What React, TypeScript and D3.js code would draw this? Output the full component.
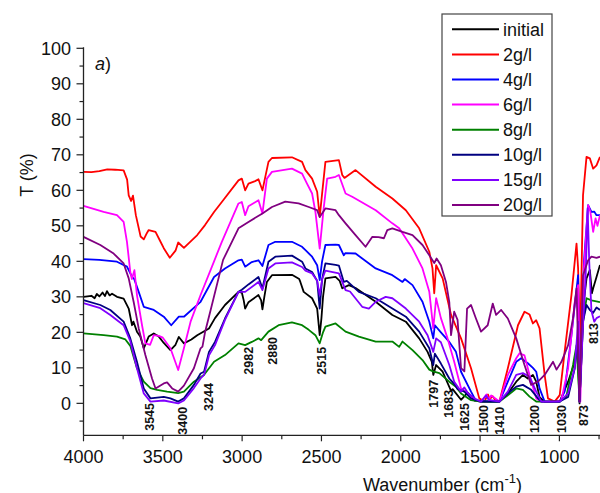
import React from "react";
import * as d3 from "d3";

type P = [number, number];

const seriesNames = ["initial", "2g/l", "4g/l", "6g/l", "8g/l", "10g/l", "15g/l", "20g/l"];
const seriesColors = ["#000000", "#ff0000", "#0000ff", "#ff00ff", "#008000", "#000080", "#8000ff", "#800080"];

const initial: P[] = [[4000,30],[3950,30.3],[3930,29.6],[3916,30.8],[3900,30.1],[3880,31.2],[3865,30.2],[3852,31.6],[3835,30.4],[3820,30.9],[3789,30],[3747,29.5],[3715,26.7],[3694,22],[3685,23],[3663,20.2],[3642,18.8],[3620,15.5],[3589,18.8],[3557,19.7],[3525,18.8],[3494,17],[3452,15],[3420,16.5],[3399,18.7],[3367,16.9],[3320,18],[3283,19.2],[3209,21.1],[3171,24],[3108,27.7],[3023,31.4],[3002,31.2],[2990,29],[2981,26.7],[2960,28.5],[2897,30.5],[2880,29],[2872,26.5],[2860,30],[2844,34.2],[2812,36.1],[2686,36.2],[2640,35],[2633,34.2],[2612,31.4],[2559,29.6],[2527,26.7],[2511,19.2],[2500,24],[2490,30],[2475,35.2],[2411,35.6],[2385,34.5],[2369,32.4],[2327,33.3],[2285,32.5],[2158,28.6],[2053,24.9],[1968,23],[1884,18.3],[1831,14.5],[1804,11.7],[1795,8],[1777,10.8],[1736,8.9],[1683,3.5],[1673,4],[1620,1],[1578,3],[1536,0.8],[1494,0.5],[1378,0.5],[1325,2.8],[1272,6.1],[1230,8],[1199,7],[1167,8],[1146,6.1],[1125,1.7],[1093,0.5],[998,0.5],[945,6.1],[903,11.7],[886,16.4],[873,0],[851,26.7],[829,35.2],[808,37.5],[795,31],[787,32.4],[766,35.6],[744,39]];

const g2: P[] = [[4000,65.2],[3950,65.1],[3900,65.4],[3850,65.9],[3800,65.8],[3747,65.6],[3725,63],[3715,58.6],[3700,57],[3688,58.5],[3670,53],[3640,47],[3620,46.2],[3600,48],[3589,48.8],[3546,48.3],[3520,46],[3494,43.7],[3456,41],[3420,43],[3403,45.3],[3367,43.8],[3283,47.4],[3234,50.2],[3177,53.9],[3128,56.7],[3023,62.8],[3002,63.3],[2981,60],[2960,61.9],[2918,62.6],[2897,63.1],[2872,60],[2834,68],[2812,69.1],[2686,69.3],[2622,68],[2601,65.7],[2559,63.3],[2527,59.6],[2511,52.5],[2496,59],[2475,68],[2390,68.5],[2369,64.3],[2355,63.5],[2285,65.7],[2158,61],[2053,57.7],[1968,54.4],[1884,49.3],[1820,42.7],[1800,38],[1789,31],[1777,38.9],[1736,35.2],[1683,24.9],[1620,18.3],[1557,9.9],[1505,1.4],[1473,0.5],[1450,2.5],[1440,1.2],[1420,2],[1400,0.6],[1378,0.5],[1325,9.9],[1261,22],[1220,25.8],[1188,25],[1167,22.5],[1146,23.4],[1125,21.1],[1093,8],[1072,1.4],[1030,0.5],[998,2.3],[967,14.5],[924,30.5],[892,45],[882,38],[870,15],[851,58.6],[829,69.4],[808,69],[787,66.1],[766,67],[744,69.4]];

const g4: P[] = [[4000,40.6],[3900,40.4],[3789,39.9],[3726,38.5],[3694,35.6],[3680,35],[3652,31.4],[3620,27.2],[3557,26.3],[3494,24.4],[3447,22],[3399,24.4],[3367,24.4],[3262,28.6],[3177,35.6],[3108,38],[3023,40.3],[3002,40.5],[2981,38.5],[2939,39.8],[2897,40.3],[2872,38.7],[2834,44.6],[2791,45.5],[2686,45.5],[2622,44.1],[2591,42.7],[2559,41.3],[2527,38.9],[2511,34.7],[2496,40],[2475,44.6],[2411,44.7],[2390,44.6],[2359,41.7],[2350,42.3],[2285,42.2],[2158,38],[2053,36.1],[1989,34.2],[1975,35],[1926,33.3],[1863,28.6],[1820,23],[1795,18.3],[1785,22],[1747,20],[1694,17.3],[1652,14.5],[1620,8.9],[1557,3.3],[1526,0.7],[1378,0.5],[1325,6.1],[1272,11.7],[1241,12.7],[1199,11.3],[1167,10],[1146,8.9],[1125,4.2],[1093,0.5],[998,0.5],[967,3.3],[924,19.2],[882,36.1],[873,0.5],[845,40],[819,55.8],[798,53.9],[780,54],[766,53],[744,53]];

const g6: P[] = [[4000,55.6],[3873,53.9],[3789,53],[3747,51.1],[3726,45.5],[3705,37],[3695,35],[3679,37.5],[3663,30.5],[3631,22],[3610,16.9],[3580,16.5],[3557,19.2],[3525,19],[3500,18.5],[3452,15.5],[3403,9.4],[3367,15.5],[3325,23],[3262,30.5],[3177,40],[3128,45.5],[3023,56.3],[3002,56.7],[2981,53],[2960,55.5],[2897,57.2],[2872,53.5],[2844,63.3],[2812,65.2],[2686,66.1],[2622,64.7],[2591,61.9],[2559,59.1],[2538,53.9],[2511,43.6],[2486,54.9],[2464,63.3],[2411,63.8],[2390,64.3],[2348,59.1],[2306,58.2],[2158,54.4],[2053,50.7],[2010,49.3],[1926,43.6],[1863,38],[1820,31.4],[1795,21.1],[1777,29.6],[1747,24],[1705,18.3],[1663,11.7],[1620,4.2],[1589,3.3],[1536,0.9],[1494,0.5],[1460,2.5],[1445,1],[1430,2.2],[1378,0.5],[1325,8],[1272,12.7],[1251,14.1],[1220,13.5],[1188,8],[1146,1.4],[1114,0.5],[1018,0.5],[987,1],[945,9.9],[903,28.6],[882,33.3],[868,0.5],[845,38],[819,55.8],[805,54],[787,48.3],[772,52.1],[760,50],[744,53]];

const g8: P[] = [[4000,19.7],[3873,19.2],[3789,18.8],[3736,18],[3705,16.2],[3663,9.9],[3620,6.1],[3578,4.3],[3536,3.8],[3473,3.3],[3403,2.9],[3367,3.3],[3304,6.1],[3241,8],[3177,11.7],[3108,13.6],[3023,16.9],[2981,16.4],[2939,17.3],[2897,18.3],[2880,17.8],[2834,20.2],[2770,22],[2686,22.8],[2622,22],[2580,20.7],[2538,19.2],[2511,16.9],[2490,20],[2475,21.6],[2411,22.5],[2348,20.2],[2264,18.8],[2158,17.4],[2053,17.4],[2010,15.9],[1989,17.4],[1926,15],[1863,12.2],[1820,9.5],[1797,9],[1757,8.5],[1694,6.1],[1652,4.7],[1620,2.8],[1557,0.9],[1494,0.5],[1378,0.5],[1325,2.3],[1272,4.2],[1230,3.8],[1188,1.9],[1146,0.5],[998,0.5],[956,2],[914,10.8],[892,16.4],[873,0.5],[851,23],[829,29.6],[798,29],[744,28.5]];

const g10: P[] = [[4000,29.1],[3894,27.7],[3831,26.3],[3747,23],[3705,18.3],[3663,11.7],[3620,4.2],[3578,1.4],[3494,1.8],[3452,1.4],[3403,0.5],[3367,1.4],[3304,5.2],[3262,8.4],[3240,8.9],[3209,14.5],[3171,17.3],[3108,23.9],[3023,31.4],[3002,32],[2960,33.5],[2897,35.6],[2872,32.4],[2834,39.9],[2791,41.3],[2686,41.6],[2622,39.9],[2601,38],[2559,37],[2527,34.5],[2511,26.7],[2496,35],[2475,39.4],[2411,39],[2390,38.8],[2359,34.2],[2340,34.5],[2264,31.4],[2158,29.6],[2053,26.7],[1968,24.4],[1884,20.2],[1820,15.5],[1795,10.8],[1785,14],[1747,11.2],[1694,7],[1663,5.5],[1642,4],[1599,3.3],[1557,1.4],[1494,0.5],[1378,0.5],[1325,2.8],[1272,4.7],[1230,5.2],[1178,3.8],[1135,1.4],[1114,0.5],[998,0.5],[945,1.8],[903,9.9],[882,19.2],[873,0.5],[851,23],[829,27.7],[808,26.3],[787,25.5],[766,27],[744,26.3]];

const g15: P[] = [[4000,28.2],[3894,26.8],[3831,24.9],[3747,22],[3705,17.5],[3663,9.9],[3620,2.8],[3578,0.5],[3494,0.8],[3403,0],[3367,0.8],[3304,4.3],[3262,7],[3240,8],[3209,13.5],[3171,16.4],[3108,23.5],[3023,31.4],[2981,31.4],[2897,34.2],[2872,31.9],[2834,38],[2791,39.4],[2686,39.7],[2622,38.4],[2601,37.4],[2559,36.6],[2527,34.5],[2511,30.5],[2495,35],[2475,37.4],[2390,36.6],[2348,31.9],[2320,31.5],[2243,27.2],[2201,26.7],[2158,28.6],[2095,30],[2053,29.6],[1968,26.7],[1884,23],[1831,19.2],[1795,14.5],[1777,18.3],[1747,17.2],[1694,10.8],[1663,6.1],[1620,3.3],[1599,4.5],[1578,3],[1536,1.4],[1494,0.5],[1462,2.2],[1445,1],[1378,0.5],[1325,3.3],[1272,8],[1230,8.5],[1188,7.5],[1146,3.3],[1114,0.5],[998,0.5],[945,2.8],[903,10],[882,23],[873,0.5],[851,22],[835,35],[822,55],[812,40],[798,26],[780,23],[766,24],[744,24.5]];

const g20: P[] = [[4000,46.9],[3894,44.6],[3810,42.2],[3747,39.4],[3715,35.2],[3684,28.6],[3652,21.1],[3610,13.6],[3568,7],[3546,4.2],[3494,5.6],[3473,5.9],[3441,4.2],[3403,3.3],[3367,5],[3304,9.9],[3262,15.5],[3250,16],[3234,20],[3200,26],[3120,40.4],[3023,49.3],[2960,51.1],[2872,53.5],[2812,55.3],[2728,56.8],[2644,56.3],[2580,55.3],[2527,54.4],[2511,52.5],[2475,54.9],[2411,54.4],[2390,53],[2348,50.7],[2285,47.4],[2222,44.1],[2179,46.9],[2140,46.8],[2106,46.5],[2085,48.8],[2053,49.3],[1989,48.3],[1926,47.4],[1863,44.6],[1820,41.7],[1789,39.5],[1774,40.8],[1747,38.9],[1715,34.2],[1694,28.5],[1683,19.2],[1663,25.8],[1642,23.5],[1620,9.9],[1599,9],[1582,26.7],[1557,27.7],[1526,23.9],[1494,20.2],[1452,22],[1420,28.1],[1399,24.9],[1367,26.3],[1325,23.9],[1272,18.3],[1220,10.8],[1178,5.2],[1135,6.1],[1093,8],[1040,11.7],[1018,9.5],[987,11.7],[945,16.4],[914,24],[892,32.4],[873,0.5],[851,36.1],[819,40.3],[798,41.3],[766,41],[744,41.3]];

const seriesData: P[][] = [initial, g2, g4, g6, g8, g10, g15, g20];

const xMajorTicks = [4000, 3500, 3000, 2500, 2000, 1500, 1000];
const xMinorTicks = [3750, 3250, 2750, 2250, 1750, 1250, 750];
const yMajorTicks = [0, 10, 20, 30, 40, 50, 60, 70, 80, 90, 100];
const yMinorTicks = [-5, 5, 15, 25, 35, 45, 55, 65, 75, 85, 95];

// peak annotations: label, x position (wavenumber), top of label (T)
const peakLabels = ["3545", "3400", "3244", "2982", "2880", "2515", "1797", "1683", "1625", "1500", "1410", "1200", "1030", "873", "813"];
const peakX = [3582, 3373, 3215, 2962, 2810, 2500, 1791, 1696, 1601, 1481, 1380, 1158, 987, 848, 782];
const peakTop = [0.1, -1.0, 5.7, 15.9, 18.7, 15.9, 6.6, 3.8, 0.1, -0.5, -1.0, -0.5, -0.5, -0.5, 22.6];

const W = 600;
const H = 493;
const x = d3.scaleLinear().domain([4000, 744]).range([83.5, 600]);
const y = d3.scaleLinear().domain([-9, 100]).range([435.3, 48.3]);
const font = "Arial, 'Liberation Sans', Helvetica, sans-serif";

export default function App() {
  const line = d3
    .line<P>()
    .x((d) => x(d[0]))
    .y((d) => y(d[1]))
    .curve(d3.curveLinear);
  const x0 = x(4000);
  const yb = y(-9);
  return (
    <svg
      width={W}
      height={H}
      style={{ position: "absolute", left: 0, top: 0, background: "#fff" }}
      fontFamily={font}
    >
      <defs>
        <clipPath id="plot">
          <rect x={x0} y={0} width={W - x0} height={yb} />
        </clipPath>
      </defs>
      <g clipPath="url(#plot)">
        {seriesData.map((d, i) => (
          <path key={i} d={line(d) || ""} fill="none" stroke={seriesColors[i]} strokeWidth={1.8} strokeLinejoin="round" />
        ))}
      </g>
      {/* axes */}
      <line x1={x0} x2={x0} y1={y(100) - 1} y2={yb} stroke="#222" strokeWidth={1.3} />
      <line x1={x0} x2={W} y1={yb} y2={yb} stroke="#222" strokeWidth={1.3} />
      {yMajorTicks.map((t) => (
        <g key={"ym" + t}>
          <line x1={x0 - 7} x2={x0} y1={y(t)} y2={y(t)} stroke="#222" strokeWidth={1.2} />
          <text x={71} y={y(t)} dy="0.36em" textAnchor="end" fontSize={18} fill="#111">
            {t}
          </text>
        </g>
      ))}
      {yMinorTicks.map((t) => (
        <line key={"yn" + t} x1={x0 - 4} x2={x0} y1={y(t)} y2={y(t)} stroke="#222" strokeWidth={1.2} />
      ))}
      {xMajorTicks.map((t) => (
        <g key={"xm" + t}>
          <line x1={x(t)} x2={x(t)} y1={yb} y2={yb + 6} stroke="#222" strokeWidth={1.2} />
          <text x={x(t)} y={462.5} textAnchor="middle" fontSize={18} fill="#111">
            {t}
          </text>
        </g>
      ))}
      {xMinorTicks.map((t) => (
        <line key={"xn" + t} x1={x(t)} x2={x(t)} y1={yb} y2={yb + 4} stroke="#222" strokeWidth={1.2} />
      ))}
      {/* axis titles */}
      <text x={363} y={490.5} fontSize={18} fill="#111">
        Wavenumber (cm
        <tspan dy={-8} fontSize={13}>-1</tspan>
        <tspan dy={8}>)</tspan>
      </text>
      <text transform={`translate(33,175) rotate(-90)`} textAnchor="middle" fontSize={18} fill="#111">
        T (%)
      </text>
      <text x={95} y={70} fontSize={18} fill="#111">
        <tspan fontStyle="italic">a</tspan>)
      </text>
      {/* peak labels */}
      {peakLabels.map((l, i) => (
        <text
          key={"pk" + l}
          transform={`translate(${x(peakX[i])},${y(peakTop[i])}) rotate(-90)`}
          textAnchor="end"
          dy="0.36em"
          fontSize={12.5}
          fontWeight="bold"
          fill="#111"
        >
          {l}
        </text>
      ))}
      {/* legend */}
      <rect x={442} y={14} width={110} height={202} fill="#fff" stroke="#444" strokeWidth={1.2} />
      {seriesNames.map((n, i) => {
        const ly = 29.3 + i * 25.1;
        return (
          <g key={"lg" + n}>
            <line x1={452} x2={499} y1={ly} y2={ly} stroke={seriesColors[i]} strokeWidth={2} />
            <text x={503} y={ly} dy="0.36em" fontSize={18} fill="#111">
              {n}
            </text>
          </g>
        );
      })}
    </svg>
  );
}
